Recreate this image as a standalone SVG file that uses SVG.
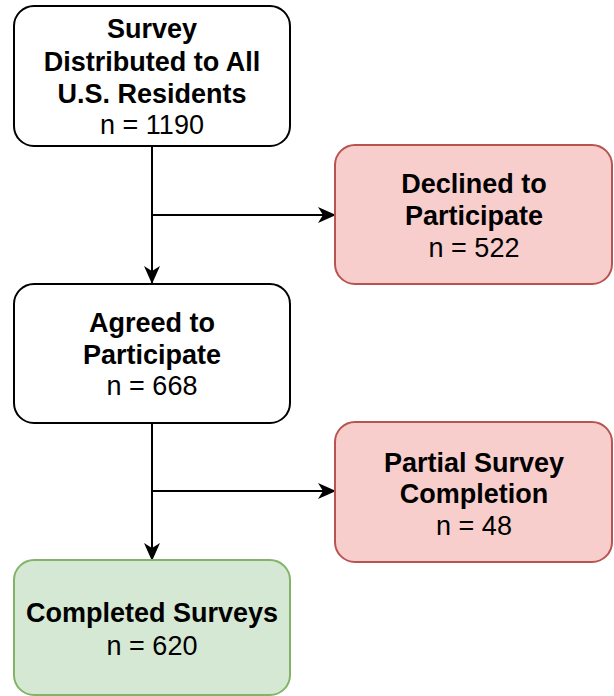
<svg xmlns="http://www.w3.org/2000/svg" width="614" height="696" viewBox="0 0 614 696">
<defs>
<marker id="arr" viewBox="0 0 18 16" refX="17" refY="8" markerWidth="18" markerHeight="16" markerUnits="userSpaceOnUse" orient="auto">
<path d="M0,0 L18,8 L0,16 L5,8 Z" fill="#000"/>
</marker>
<style>
.box{stroke-width:2}
.w{fill:#fff;stroke:#000}
.r{fill:#f8cecc;stroke:#b85450}
.g{fill:#d5e8d4;stroke:#82b366}
text{font-family:"Liberation Sans",Arial,sans-serif;font-size:27px;fill:#000;text-anchor:middle}
.b{font-weight:bold}
.c{fill:none;stroke:#000;stroke-width:2}
</style>
</defs>
<rect width="614" height="696" fill="#fff"/>
<g id="connectors">
<path class="c" d="M152,146 V283" marker-end="url(#arr)"/>
<path class="c" d="M152,215 H335" marker-end="url(#arr)"/>
<path class="c" d="M152,423 V560" marker-end="url(#arr)"/>
<path class="c" d="M152,491 H335" marker-end="url(#arr)"/>
</g>
<g id="survey">
<rect class="box w" x="14" y="6" width="276" height="140" rx="20"/>
<text class="b" x="152" y="38">Survey</text>
<text class="b" x="152" y="71">Distributed to All</text>
<text class="b" x="152" y="103">U.S. Residents</text>
<text x="152" y="134">n = 1190</text>
</g>
<g id="declined">
<rect class="box r" x="335" y="145" width="277" height="139" rx="20"/>
<text class="b" x="474" y="193">Declined to</text>
<text class="b" x="474" y="225">Participate</text>
<text x="474" y="257">n = 522</text>
</g>
<g id="agreed">
<rect class="box w" x="14" y="284" width="276" height="139" rx="20"/>
<text class="b" x="152" y="332">Agreed to</text>
<text class="b" x="152" y="364">Participate</text>
<text x="152" y="395">n = 668</text>
</g>
<g id="partial">
<rect class="box r" x="335" y="422" width="277" height="140" rx="20"/>
<text class="b" x="474" y="472">Partial Survey</text>
<text class="b" x="474" y="503">Completion</text>
<text x="474" y="535">n = 48</text>
</g>
<g id="completed">
<rect class="box g" x="14" y="560" width="276" height="135" rx="20"/>
<text class="b" x="152" y="622">Completed Surveys</text>
<text x="152" y="655">n = 620</text>
</g>
</svg>
